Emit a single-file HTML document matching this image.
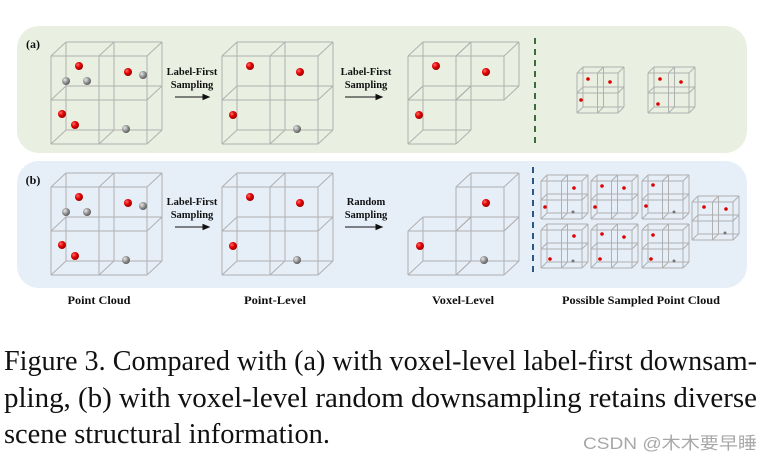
<!DOCTYPE html>
<html><head><meta charset="utf-8">
<style>
html,body{margin:0;padding:0;background:#fff;width:769px;height:463px;overflow:hidden}
svg{display:block}
</style></head>
<body>
<svg id="s" width="769" height="463" viewBox="0 0 769 463" xmlns="http://www.w3.org/2000/svg">
<defs>
<radialGradient id="rg" cx="0.35" cy="0.35" r="0.7"><stop offset="0" stop-color="#ff6a6a"/><stop offset="0.5" stop-color="#e00000"/><stop offset="1" stop-color="#900"/></radialGradient>
<radialGradient id="gg" cx="0.35" cy="0.35" r="0.7"><stop offset="0" stop-color="#e8e8e8"/><stop offset="0.5" stop-color="#999"/><stop offset="1" stop-color="#555"/></radialGradient>
</defs>
<rect x="17" y="26" width="730" height="127" rx="22" fill="#e9f0e1"/>
<rect x="17" y="161" width="730" height="127" rx="22" fill="#e6eef8"/>
<g id="cubes" fill="none" stroke="#b0b0b0" stroke-width="1"></g>
<g id="pts"></g>
<line x1="535" y1="38" x2="535" y2="143" stroke="#3d6b3d" stroke-width="2" stroke-dasharray="6,5"/>
<line x1="533" y1="167" x2="533" y2="276" stroke="#2b5785" stroke-width="2" stroke-dasharray="6,5"/>
<g font-family="Liberation Serif, serif" font-weight="bold" font-size="10.5" fill="#111" text-anchor="middle">
<text x="33" y="48" font-size="12">(a)</text>
<text x="33" y="184" font-size="12">(b)</text>
<text x="192" y="75">Label-First</text><text x="192" y="88">Sampling</text>
<text x="366" y="75">Label-First</text><text x="366" y="88">Sampling</text>
<text x="192" y="205">Label-First</text><text x="192" y="218">Sampling</text>
<text x="366" y="205">Random</text><text x="366" y="218">Sampling</text>
</g>
<g font-family="Liberation Serif, serif" font-weight="bold" font-size="11.5" fill="#111" text-anchor="middle">
<text x="99" y="304" textLength="63" lengthAdjust="spacingAndGlyphs">Point Cloud</text>
<text x="275" y="304" textLength="62" lengthAdjust="spacingAndGlyphs">Point-Level</text>
<text x="463" y="304" textLength="62" lengthAdjust="spacingAndGlyphs">Voxel-Level</text>
<text x="641" y="304" textLength="158" lengthAdjust="spacingAndGlyphs">Possible Sampled Point Cloud</text>
</g>
<g stroke="#111" stroke-width="1" fill="#111">
<line x1="175" y1="97" x2="205" y2="97"/><polygon points="209,97 203,94.5 203,99.5"/>
<line x1="345" y1="97" x2="378" y2="97"/><polygon points="382,97 376,94.5 376,99.5"/>
<line x1="175" y1="227" x2="205" y2="227"/><polygon points="209,227 203,224.5 203,229.5"/>
<line x1="345" y1="227" x2="378" y2="227"/><polygon points="382,227 376,224.5 376,229.5"/>
</g>
<g font-family="Liberation Serif, serif" font-size="28" fill="#111">
<text x="4" y="370" textLength="753" lengthAdjust="spacingAndGlyphs">Figure 3. Compared with (a) with voxel-level label-first downsam-</text>
<text x="4" y="407" textLength="753" lengthAdjust="spacingAndGlyphs">pling, (b) with voxel-level random downsampling retains diverse</text>
<text x="4" y="443" textLength="326" lengthAdjust="spacingAndGlyphs">scene structural information.</text>
</g>
<text x="583" y="449" font-family="Liberation Sans, 'Noto Sans CJK SC', sans-serif" font-size="17" fill="#a8a8a8" textLength="174" lengthAdjust="spacingAndGlyphs">CSDN @木木要早睡</text>
</svg>
<script>
var NS="http://www.w3.org/2000/svg";
var cg=document.getElementById('cubes'),pg=document.getElementById('pts');
function ln(a,b,c,d){var l=document.createElementNS(NS,'line');l.setAttribute('x1',a);l.setAttribute('y1',b);l.setAttribute('x2',c);l.setAttribute('y2',d);cg.appendChild(l);}
function rc(x,y,w,h){ln(x,y,x+w,y);ln(x+w,y,x+w,y+h);ln(x+w,y+h,x,y+h);ln(x,y+h,x,y);}
function box(x,y,w,h,dx,dy){
 rc(x+dx,y-dy,w,h);rc(x,y,w,h);
 ln(x,y,x+dx,y-dy);ln(x+w,y,x+w+dx,y-dy);ln(x+w,y+h,x+w+dx,y+h-dy);ln(x,y+h,x+dx,y+h-dy);
}
function big(x,y,w,h,dx,dy){
 box(x,y,w,h,dx,dy);
 var mx=x+w/2,my=y+h/2;
 ln(mx,y,mx,y+h);ln(x,my,x+w,my);
 ln(mx+dx,y-dy,mx+dx,y+h-dy);ln(x+dx,my-dy,x+w+dx,my-dy);
 ln(mx,y,mx+dx,y-dy);ln(mx,y+h,mx+dx,y+h-dy);ln(x,my,x+dx,my-dy);ln(x+w,my,x+w+dx,my-dy);
}
function pt(x,y,r,red){var c=document.createElementNS(NS,'circle');c.setAttribute('cx',x);c.setAttribute('cy',y);c.setAttribute('r',r);c.setAttribute('fill',red?'url(#rg)':'url(#gg)');pg.appendChild(c);}
function spt(x,y,red){var c=document.createElementNS(NS,'circle');c.setAttribute('cx',x);c.setAttribute('cy',y);c.setAttribute('r',red?1.8:1.5);c.setAttribute('fill',red?'#d00':'#777');pg.appendChild(c);}
[0,131].forEach(function(o){
 big(51,56+o,96,88,15,14);
 big(222,56+o,96,88,15,14);
 pt(79,66+o,4,1);pt(128,72+o,4,1);pt(62,114+o,4,1);pt(75,125+o,4,1);
 pt(66,81+o,4,0);pt(87,81+o,4,0);pt(143,75+o,4,0);pt(126,129+o,4,0);
 pt(250,66+o,4,1);pt(300,72+o,4,1);pt(233,115+o,4,1);pt(297,129+o,4,0);
});
box(408,56,48,44,15,14);box(456,56,48,44,15,14);box(408,100,48,44,15,14);
pt(436,66,4,1);pt(486,72,4,1);pt(419,115,4,1);
box(456,187,48,44,15,14);box(408,231,48,44,15,14);box(456,231,48,44,15,14);
pt(486,203,4,1);pt(420,246,4,1);pt(484,260,4,0);
big(577,73,41,40,6,6);big(648,73,41,40,6,6);
spt(588,79,1);spt(610,82,1);spt(581,100,1);
spt(660,79,1);spt(681,82,1);spt(658,104,1);
var sb=[[541,181,[[574,188,1],[545,207,1],[573,212,0]]],[591,181,[[602,186,1],[624,188,1],[595,207,1]]],[642,181,[[653,185,1],[646,206,1],[674,212,0]]],[692,202,[[704,207,1],[726,209,1],[725,233,0]]],[541,230,[[574,236,1],[550,259,1],[573,261,0]]],[591,230,[[602,234,1],[624,237,1],[600,259,1]]],[642,230,[[653,235,1],[651,259,1],[674,261,0]]]];
sb.forEach(function(c){big(c[0],c[1],41,38,6,6);c[2].forEach(function(p){spt(p[0],p[1],p[2]);});});
</script>
</body></html>
